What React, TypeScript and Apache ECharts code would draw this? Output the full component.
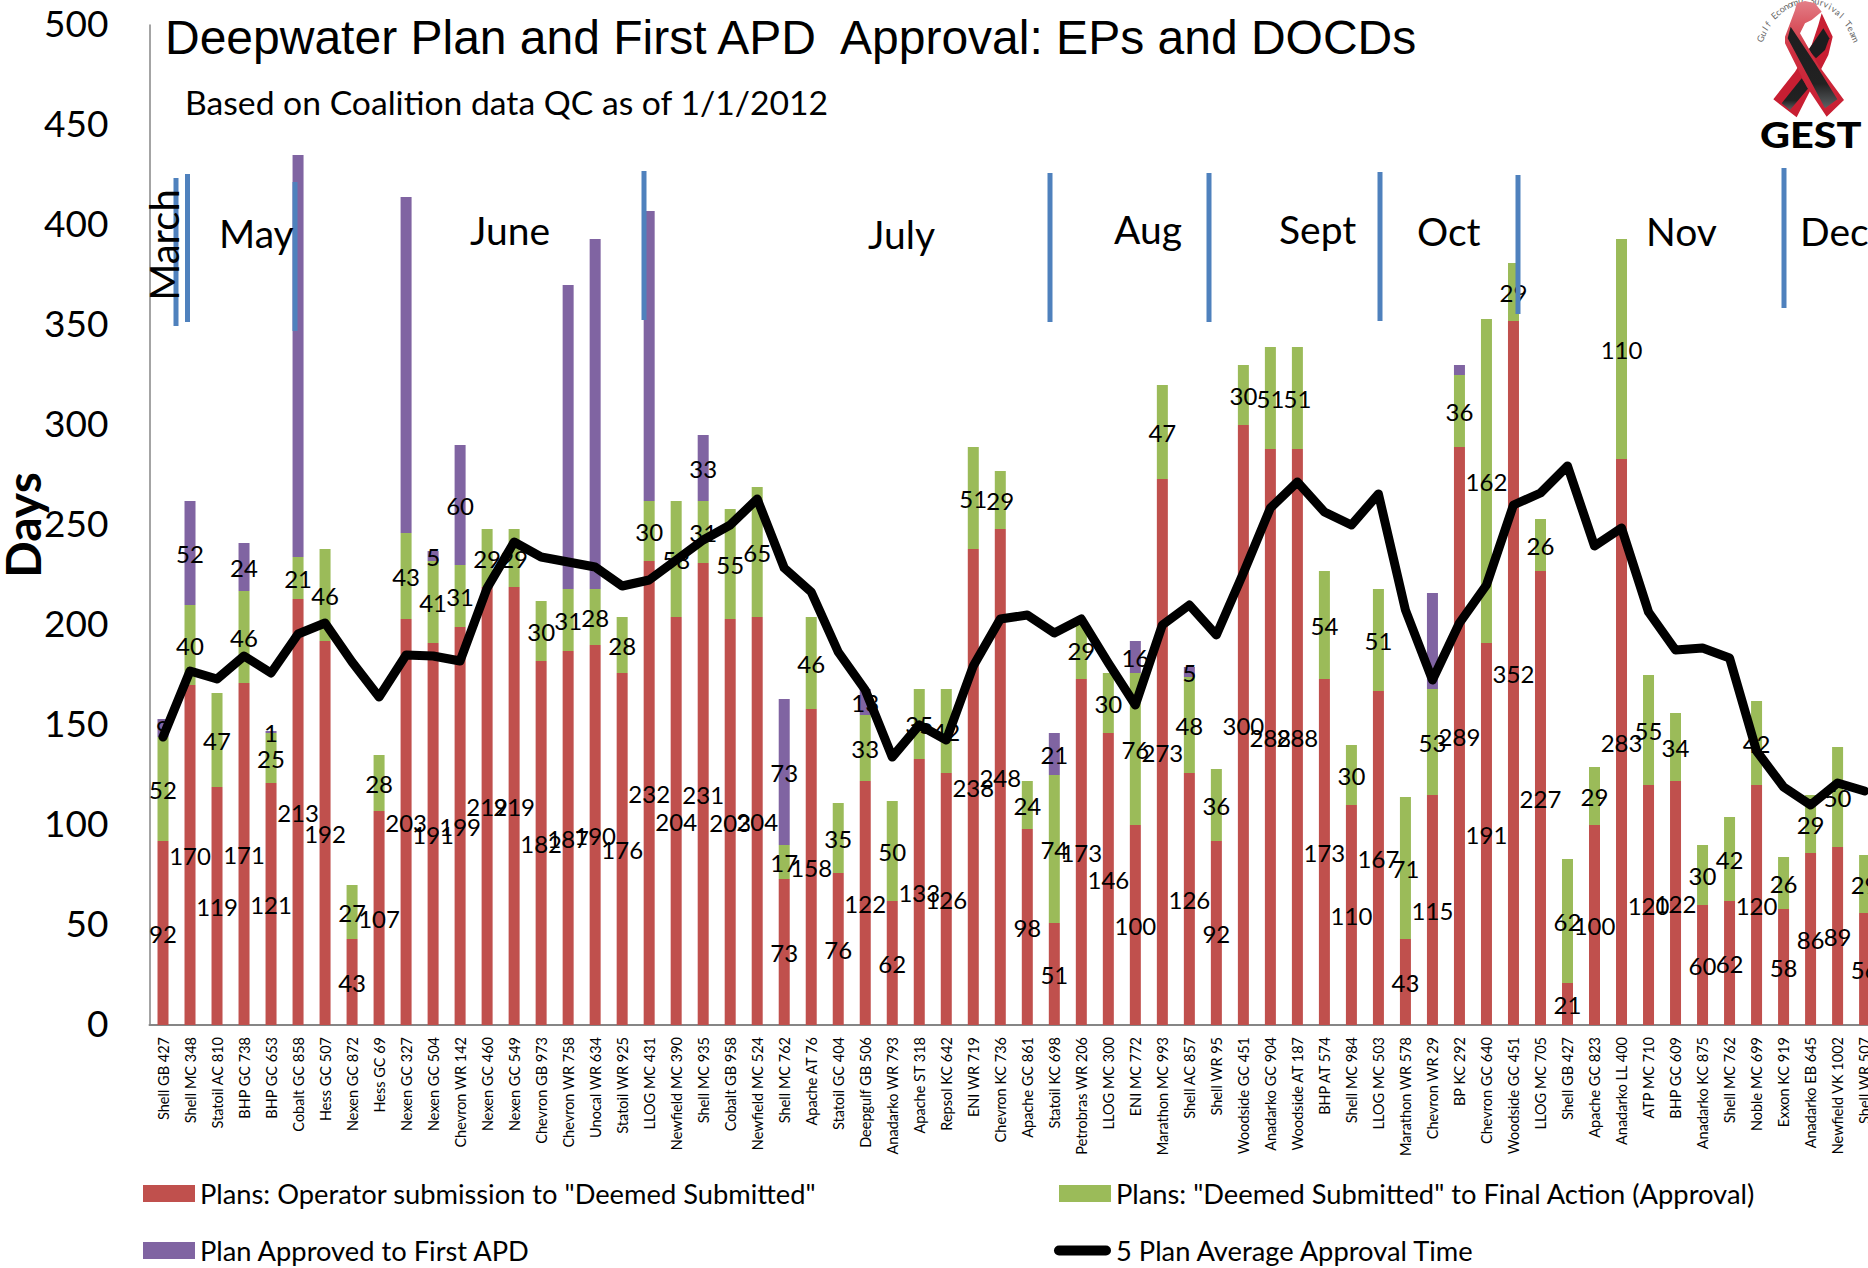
import React, { useEffect, useRef } from "react";
import * as echarts from "echarts";

const categories = ["Shell GB 427","Shell MC 348","Statoil AC 810","BHP GC 738","BHP GC 653","Cobalt GC 858","Hess GC 507","Nexen GC 872","Hess GC 69","Nexen GC 327","Nexen GC 504","Chevron WR 142","Nexen GC 460","Nexen GC 549","Chevron GB 973","Chevron WR 758","Unocal WR 634","Statoil WR 925","LLOG MC 431","Newfield MC 390","Shell MC 935","Cobalt GB 958","Newfield MC 524","Shell MC 762","Apache AT 76","Statoil GC 404","Deepgulf GB 506","Anadarko WR 793","Apache ST 318","Repsol KC 642","ENI WR 719","Chevron KC 736","Apache GC 861","Statoil KC 698","Petrobras WR 206","LLOG MC 300","ENI MC 772","Marathon MC 993","Shell AC 857","Shell WR 95","Woodside GC 451","Anadarko GC 904","Woodside AT 187","BHP AT 574","Shell MC 984","LLOG MC 503","Marathon WR 578","Chevron WR 29","BP KC 292","Chevron GC 640","Woodside GC 451","LLOG MC 705","Shell GB 427","Apache GC 823","Anadarko LL 400","ATP MC 710","BHP GC 609","Anadarko KC 875","Shell MC 762","Noble MC 699","Exxon KC 919","Anadarko EB 645","Newfield VK 1002","Shell WR 507"];
const submitted = [92,170,119,171,121,213,192,43,107,203,191,199,219,219,182,187,190,176,232,204,231,203,204,73,158,76,122,62,133,126,238,248,98,51,173,146,100,273,126,92,300,288,288,173,110,167,43,115,289,191,352,227,21,100,283,120,122,60,62,120,58,86,89,56];
const approval = [52,40,47,46,25,21,46,27,28,43,41,31,29,29,30,31,28,28,30,58,31,55,65,17,46,35,33,50,35,42,51,29,24,74,29,30,76,47,48,36,30,51,51,54,30,51,71,53,36,162,29,26,62,29,110,55,34,30,42,42,26,29,50,29];
const firstApd: (number | null)[] = [9,52,null,24,1,201,null,null,null,168,5,60,null,null,null,152,175,null,145,null,33,null,null,73,null,null,13,null,null,null,null,null,null,21,null,null,16,null,5,null,null,null,null,null,null,null,null,48,5,null,null,null,null,null,null,null,null,null,null,null,null,null,null,null];
const unlabelledApd = [5, 9, 15, 16, 18, 47, 48];
const average = [144,177,173,184.5,176,195.5,201,181.5,164,185,184.5,182,218.5,241.5,234,231.5,229,219.5,222.5,232.5,242.5,250,263,228.5,216.5,186.5,167.5,134,150,142.5,179.5,203,205,196,203,181,160,200,210,195,226,258.5,271.5,256.5,250,265.5,207.5,172.5,201,220,260,266,279.5,239.5,248.5,206.5,187.5,188.5,183.5,137,119,110,121,117];

const seriesNames = ['Plans: Operator submission to "Deemed Submitted"', 'Plans: "Deemed Submitted" to Final Action (Approval)', "Plan Approved to First APD", "5 Plan Average Approval Time"];
const seriesColors = ["#C0504D", "#9BBB59", "#8064A2", "#000000"];

const monthLabels = [
  { text: "May", x: 219, y: 252 }, { text: "June", x: 470, y: 249 }, { text: "July", x: 868, y: 253 },
  { text: "Aug", x: 1114, y: 248 }, { text: "Sept", x: 1279, y: 248 }, { text: "Oct", x: 1417, y: 250 },
  { text: "Nov", x: 1646, y: 250 }, { text: "Dec", x: 1800, y: 250 },
];
const monthDividers = [
  { x: 176, y1: 178, y2: 326 }, { x: 187.5, y1: 174, y2: 322 }, { x: 295, y1: 182, y2: 331 },
  { x: 644, y1: 171, y2: 320 }, { x: 1050, y1: 173, y2: 322 }, { x: 1209, y1: 173, y2: 322 },
  { x: 1380, y1: 172, y2: 321 }, { x: 1518, y1: 175, y2: 314 }, { x: 1784, y1: 168, y2: 308 },
];

const FONT = "Lato";
const barLabel = { show: true, position: "inside" as const, color: "#000", fontFamily: FONT, fontSize: 24 };

function logoElements(): any[] {
  const arcText = "Gulf Economic Survival Team";
  const chars = arcText.split("").map((ch, i) => {
    const a = ((-66 + (132 * i) / (arcText.length - 1)) * Math.PI) / 180;
    return {
      type: "text", x: 1808 + 52 * Math.sin(a), y: 65 - 65 * Math.cos(a), rotation: -a, z: 20,
      style: { text: ch, fill: "#666", font: `9px ${FONT}`, align: "center", verticalAlign: "middle" },
    };
  });
  const pts = (p: number[][]) => p.map(([x, y]) => [x / 3, y / 3]);
  const poly = (p: number[][], fill: any) => ({ type: "polygon", shape: { points: pts(p) }, style: { fill }, z: 21 });
  const fade = new echarts.graphic.LinearGradient(0, 0, 0, 1, [{ offset: 0, color: "#1d1d1f" }, { offset: 0.7, color: "#222" }, { offset: 1, color: "#5c6063" }]);
  const rib = new echarts.graphic.LinearGradient(0, 0, 0, 1, [{ offset: 0, color: "#e37f88" }, { offset: 0.22, color: "#d9545f" }, { offset: 0.45, color: "#cf2f40" }, { offset: 1, color: "#c81e32" }]);
  const ribbon = {
    type: "group", x: 1740, y: 0,
    children: [
      poly([[245,40],[278,110],[265,165],[170,352],[100,298],[165,215],[215,135],[235,75]], "#c81e32"),
      poly([[250,85],[268,115],[255,150],[228,175],[205,150]], "#1d1d1f"),
      poly([[185,235],[205,265],[150,330],[125,310]], fade),
      poly([[165,30],[135,110],[135,130],[200,260],[260,350],[312,300],[235,195],[180,100],[195,70],[215,60],[245,35],[225,10],[195,3],[170,10]], rib),
      poly([[152,80],[143,115],[205,230],[255,325],[292,298],[225,190],[165,100]], fade),
    ],
  };
  const gest = {
    type: "text", x: 1760, y: 115, scaleX: 1.12, z: 22,
    style: { text: "GEST", fill: "#000", font: `900 37px ${FONT}`, verticalAlign: "top" },
  };
  return [...chars, ribbon, gest];
}

export default function App() {
  const ref = useRef<HTMLDivElement>(null);
  useEffect(() => {
    const chart = echarts.init(ref.current!, null, { renderer: "svg" });
    const barSeries = (i: number, data: any[]) => ({
      name: seriesNames[i], type: "bar", stack: "plans", barWidth: 11, z: 2,
      itemStyle: { color: seriesColors[i] }, label: barLabel, data,
    });
    const legendAt = (i: number, left: number, top: number, extra: any = {}, box: any = {}) => ({
      left, top, padding: 0, itemWidth: 52, itemHeight: 17, selectedMode: false,
      textStyle: { color: "#000", fontFamily: FONT, fontSize: 27.3 },
      data: [{ name: seriesNames[i], icon: "rect", ...extra }],
      ...box,
    });
    chart.setOption({
      animation: false,
      backgroundColor: "#fff",
      title: [
        { text: "Deepwater Plan and First APD  Approval: EPs and DOCDs", left: 165, top: 13, padding: 0,
          textStyle: { color: "#000", fontFamily: "Liberation Sans", fontWeight: "normal", fontSize: 48 } },
        { text: "Based on Coalition data QC as of 1/1/2012", left: 185, top: 85, padding: 0,
          textStyle: { color: "#000", fontFamily: FONT, fontWeight: "normal", fontSize: 33.7 } },
      ],
      legend: [
        legendAt(0, 143, 1180),
        legendAt(1, 1059, 1180),
        legendAt(2, 143, 1237),
        legendAt(3, 1054, 1237, { icon: "path://M5,0 H52 A5,5 0 0 1 52,10 H5 A5,5 0 0 1 5,0 Z", itemStyle: { color: "#000" } }, { itemWidth: 57, itemHeight: 10 }),
      ],
      grid: { left: 149.5, top: 25, width: 1728.6, height: 1000, containLabel: false, outerBoundsMode: "none" },
      xAxis: {
        type: "category", data: categories,
        axisLine: { lineStyle: { color: "#868686", width: 2 } }, axisTick: { show: false },
        axisLabel: { interval: 0, rotate: 90, margin: 12, color: "#000", fontFamily: FONT, fontSize: 14.5 },
      },
      yAxis: {
        type: "value", min: 0, max: 500, interval: 50,
        name: "Days", nameLocation: "middle", nameRotate: 90, nameGap: 103, nameMoveOverlap: false,
        nameTextStyle: { color: "#000", fontFamily: FONT, fontWeight: "bold", fontSize: 48 },
        axisLine: { show: true, lineStyle: { color: "#868686", width: 1.5 } }, axisTick: { show: false },
        splitLine: { show: false },
        axisLabel: { margin: 41, color: "#000", fontFamily: FONT, fontSize: 37, verticalAlign: "bottom", lineHeight: 5 },
      },
      series: [
        barSeries(0, submitted),
        barSeries(1, approval),
        barSeries(2, firstApd.map((v, i) => (unlabelledApd.includes(i) ? { value: v, label: { show: false } } : v))),
        {
          name: seriesNames[3], type: "line", z: 6, symbol: "none", data: average,
          itemStyle: { color: "#000" },
          lineStyle: { color: "#000", width: 9, join: "round", cap: "round" },
        },
      ],
      graphic: [
        ...monthDividers.map((d) => ({
          type: "line", z: 10, shape: { x1: d.x, y1: d.y1, x2: d.x, y2: d.y2 },
          style: { stroke: "#4F81BD", lineWidth: 5 },
        })),
        ...monthLabels.map((m) => ({
          type: "text", x: m.x, y: m.y, z: 11,
          style: { text: m.text, fill: "#000", font: `39px ${FONT}`, verticalAlign: "bottom" },
        })),
        {
          type: "text", x: 164, y: 245, rotation: Math.PI / 2, z: 11,
          style: { text: "March", fill: "#000", font: `40px ${FONT}`, align: "center", verticalAlign: "middle" },
        },
        ...logoElements(),
      ],
    });
    return () => chart.dispose();
  }, []);
  return (
    <div style={{ position: "fixed", left: 0, top: 0, width: 1868, height: 1268, overflow: "hidden", background: "#fff" }}>
      <div ref={ref} style={{ width: 1900, height: 1268 }} />
    </div>
  );
}
